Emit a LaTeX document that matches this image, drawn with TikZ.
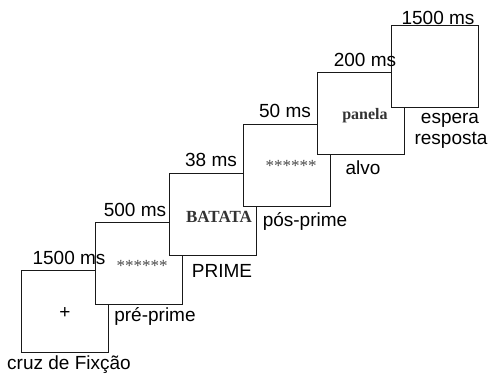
\documentclass[tikz,border=0pt]{standalone}
\usepackage{fontspec}
\setmainfont{Liberation Sans}
\newfontfamily\stimfont{Liberation Serif}
\begin{document}
\begin{tikzpicture}[x=1pt,y=-1pt,
  frame/.style={draw=black!90, fill=white, line width=0.8pt, minimum width=87pt, minimum height=82pt, inner sep=0pt, outer sep=0pt},
  lbl/.style={font=\fontsize{19}{21}\selectfont, anchor=base, inner sep=0pt},
  stim/.style={font=\fontsize{17}{19}\selectfont\stimfont\bfseries, text=black!80, anchor=base, inner sep=0pt},
  stars/.style={font=\fontsize{17}{19}\selectfont\stimfont, text=black!70, anchor=base, inner sep=0pt}]
\useasboundingbox (0,0) rectangle (488,374);
% frames
\node[frame] (b1) at (64.5,311) {};
\node[frame] (b2) at (138.5,263.5) {};
\node[frame] (b3) at (212.5,214) {};
\node[frame] (b4) at (286.5,165.5) {};
\node[frame] (b5) at (360.5,113.5) {};
\node[frame] (b6) at (434.5,66.5) {};
% contents
\node[font=\fontsize{19}{21}\selectfont, inner sep=0pt] (c1) at (65,313) {+};
\node[stars] (c2) at (142,272) {******};
\node[stim] (c3) at (219,223) {BATATA};
\node[stars] (c4) at (291,172) {******};
\node[stim, font=\fontsize{16}{18}\selectfont\stimfont\bfseries] (c5) at (365,120) {panela};
% durations
\node[lbl] (d1) at (69,265) {1500 ms};
\node[lbl] (d2) at (135,217) {500 ms};
\node[lbl] (d3) at (211,167) {38 ms};
\node[lbl] (d4) at (285,118) {50 ms};
\node[lbl] (d5) at (365,67) {200 ms};
\node[lbl] (d6) at (438,25) {1500 ms};
% names
\node[lbl] (n1) at (69,370) {cruz de Fixção};
\node[lbl] (n2) at (155,322) {pré-prime};
\node[lbl] (n3) at (222,278) {PRIME};
\node[lbl] (n4) at (305,227) {pós-prime};
\node[lbl] (n5) at (363,175) {alvo};
\node[lbl] (n6) at (450,124) {espera};
\node[lbl] (n7) at (451,145) {resposta};
\end{tikzpicture}
\end{document}
